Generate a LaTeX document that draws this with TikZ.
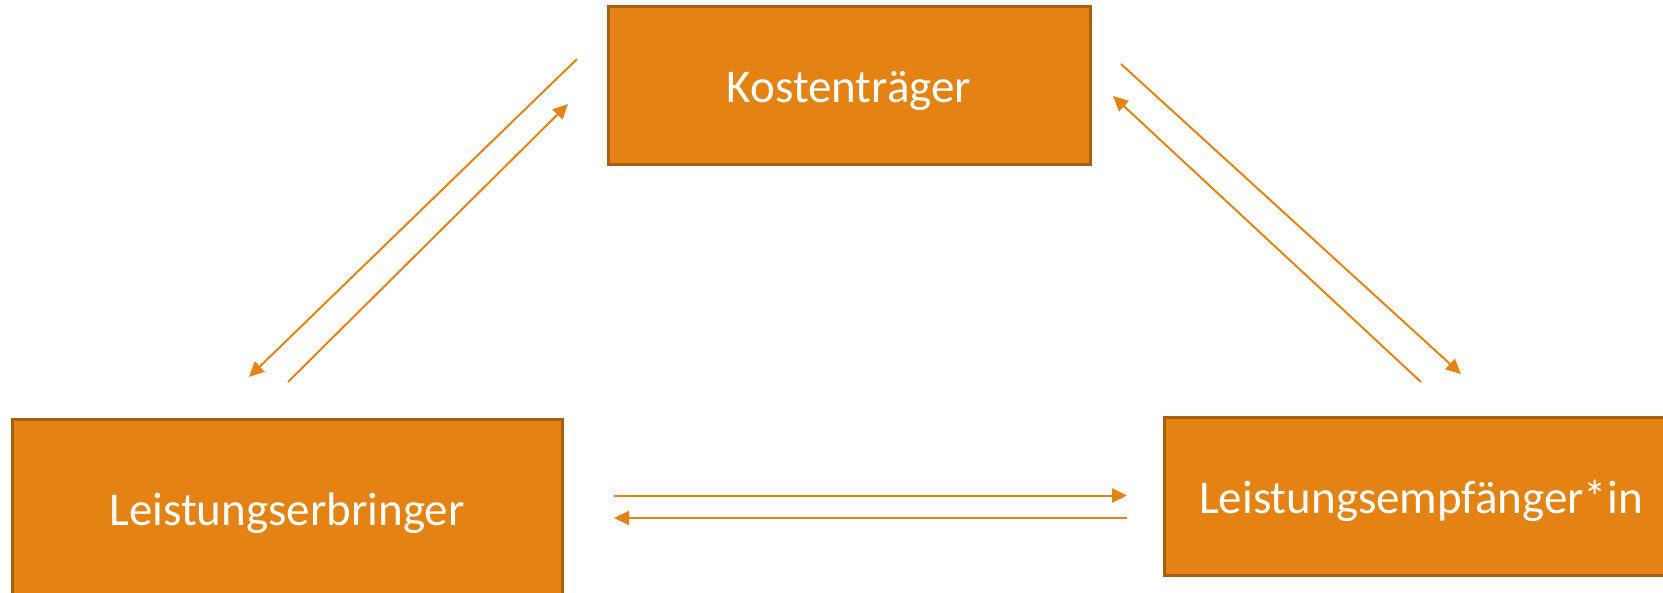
\documentclass[tikz,border=0pt]{standalone}
\usepackage{fontspec}
\setmainfont{Carlito}
\usetikzlibrary{arrows.meta}
\definecolor{boxfill}{HTML}{E48313}
\definecolor{boxline}{HTML}{A85F12}
\definecolor{arrowcol}{HTML}{E58314}
\begin{document}
\begin{tikzpicture}[x=1pt,y=-1pt,
  box/.style={draw=boxline, line width=3pt, fill=boxfill, rectangle, inner sep=0pt,
    text=white, font=\fontsize{47}{50}\selectfont, text height=34pt, text depth=0pt},
  conn/.style={draw=arrowcol, line width=2pt, -{Triangle[length=15pt,width=14pt]}}]
\useasboundingbox (0,0) rectangle (1663,593);
\clip (0,0) rectangle (1663,593);
\node[box, minimum width=482pt, minimum height=158pt] (kt) at (849,86) {Kostenträger};
\node[box, minimum width=550pt, minimum height=176pt] (le) at (287,508) {Leistungserbringer};
\node[box, minimum width=514pt, minimum height=157pt] (lr) at (1421,496.5) {Leistungsempfänger*in};
% arrow endpoints
\coordinate (a1s) at (577,59);  \coordinate (a1e) at (249,377);
\coordinate (a2s) at (288,382); \coordinate (a2e) at (568,104);
\coordinate (a3s) at (1121,64); \coordinate (a3e) at (1461,374);
\coordinate (a4s) at (1421,382);\coordinate (a4e) at (1113,96);
\coordinate (a5s) at (614,495.5);\coordinate (a5e) at (1127,495.5);
\coordinate (a6s) at (1127,518); \coordinate (a6e) at (614,518);
\draw[conn] (a1s) -- (a1e);
\draw[conn] (a2s) -- (a2e);
\draw[conn] (a3s) -- (a3e);
\draw[conn] (a4s) -- (a4e);
\draw[conn] (a5s) -- (a5e);
\draw[conn] (a6s) -- (a6e);
\end{tikzpicture}
\end{document}
